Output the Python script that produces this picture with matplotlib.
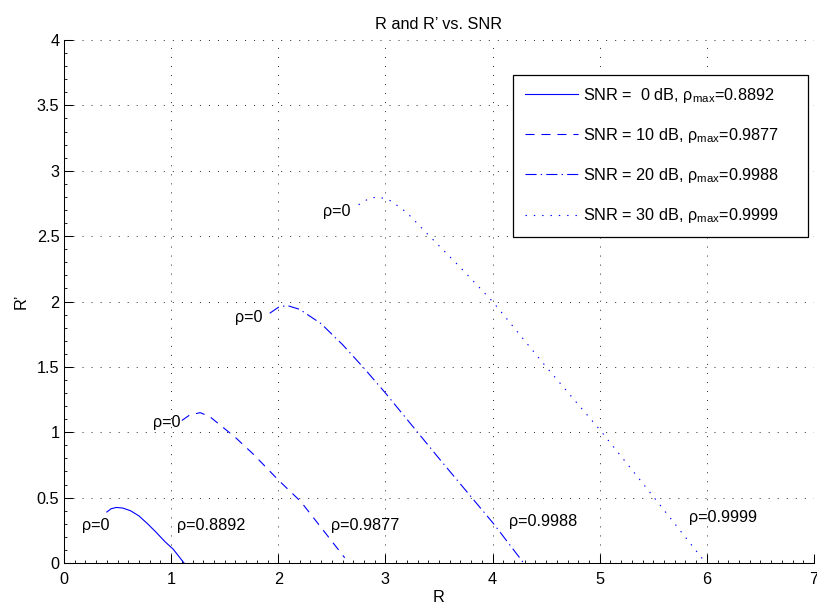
import numpy as np
import matplotlib
matplotlib.use('Agg')
import matplotlib.pyplot as plt
from matplotlib.ticker import AutoMinorLocator

# values (R, R')
R_0dB = [0.40, 0.44, 0.49, 0.55, 0.62, 0.70, 0.78, 0.86, 0.94, 1.02, 1.12]
Rp_0dB = [0.39, 0.415, 0.425, 0.42, 0.40, 0.36, 0.30, 0.235, 0.165, 0.105, 0.0]

R_10dB = [1.10, 1.17, 1.27, 1.36, 1.45, 1.60, 1.77, 2.00, 2.21, 2.42, 2.62]
Rp_10dB = [1.09, 1.13, 1.15, 1.12, 1.06, 0.96, 0.83, 0.635, 0.47, 0.25, 0.04]

R_20dB = [1.92, 2.00, 2.08, 2.20, 2.40, 2.60, 2.80, 3.00, 3.50, 4.01, 4.29]
Rp_20dB = [1.91, 1.955, 1.97, 1.94, 1.83, 1.67, 1.49, 1.30, 0.80, 0.30, 0.0]

R_30dB = [2.75, 2.85, 2.94, 3.05, 3.20, 3.40, 3.70, 4.00, 4.50, 5.00, 5.45, 5.99]
Rp_30dB = [2.74, 2.79, 2.80, 2.77, 2.68, 2.51, 2.26, 2.00, 1.50, 1.02, 0.56, 0.0]

legend_labels = ['SNR =  0 dB, ρ$_{\\mathrm{max}}$=0.8892',
                 'SNR = 10 dB, ρ$_{\\mathrm{max}}$=0.9877',
                 'SNR = 20 dB, ρ$_{\\mathrm{max}}$=0.9988',
                 'SNR = 30 dB, ρ$_{\\mathrm{max}}$=0.9999']

# annotation texts and where they sit (data coords)
ann_text = ['ρ=0', 'ρ=0.8892', 'ρ=0', 'ρ=0.9877',
            'ρ=0', 'ρ=0.9988', 'ρ=0', 'ρ=0.9999']
ann_x = [0.165, 1.05, 0.835, 2.49, 1.60, 4.15, 2.42, 5.83]
ann_y = [0.29, 0.29, 1.076, 0.29, 1.88, 0.316, 2.69, 0.346]

xtick_vals = [0, 1, 2, 3, 4, 5, 6, 7]
xtick_labels = ['0', '1', '2', '3', '4', '5', '6', '7']
ytick_vals = [0, 0.5, 1, 1.5, 2, 2.5, 3, 3.5, 4]
ytick_labels = ['0', '0.5', '1', '1.5', '2', '2.5', '3', '3.5', '4']

plt.rcParams['font.family'] = ['Liberation Sans', 'DejaVu Sans']
plt.rcParams['mathtext.fontset'] = 'custom'
plt.rcParams['mathtext.rm'] = 'Liberation Sans'
plt.rcParams['mathtext.it'] = 'Liberation Sans:italic'
plt.rcParams['mathtext.bf'] = 'Liberation Sans:bold'
plt.rcParams['lines.scale_dashes'] = False
fs = 11.7

fig = plt.figure(figsize=(8.17, 6.14), dpi=100)
ax = fig.add_axes([64/817, 1 - 563/614, 750/817, 523/614])

blue = '#0000ff'
lw = 0.8
ax.plot(R_0dB, Rp_0dB, color=blue, lw=lw, linestyle='-', label=legend_labels[0])
ax.plot(R_10dB, Rp_10dB, color=blue, lw=lw, linestyle=(0, (6.5, 5)), label=legend_labels[1])
ax.plot(R_20dB, Rp_20dB, color=blue, lw=lw, linestyle=(0, (8, 3, 1, 3)), label=legend_labels[2])
ax.plot(R_30dB, Rp_30dB, color=blue, lw=lw, linestyle=(0, (1, 5)), label=legend_labels[3])

for t, x, y in zip(ann_text, ann_x, ann_y):
    ax.text(x, y, t, fontsize=fs, ha='left', va='center')

ax.set_xlim(0, 7)
ax.set_ylim(0, 4)
ax.set_xticks(xtick_vals)
ax.set_xticklabels(xtick_labels)
ax.set_yticks(ytick_vals)
ax.set_yticklabels(ytick_labels)
ax.xaxis.set_minor_locator(AutoMinorLocator(10))
ax.yaxis.set_minor_locator(AutoMinorLocator(5))
ax.tick_params(which='major', direction='in', length=6.5, width=0.75, labelsize=fs)
ax.tick_params(axis='x', which='major', pad=6.5)
ax.tick_params(axis='y', which='major', pad=3.4)
ax.tick_params(which='minor', direction='in', length=2.5, width=0.6)

for s in ['top', 'right']:
    ax.spines[s].set_visible(False)
for s in ['left', 'bottom']:
    ax.spines[s].set_linewidth(0.75)

ax.grid(True, which='major', color='0.15', linestyle=(0, (0.7, 5.8)), linewidth=0.7)

ax.set_title('R and R’ vs. SNR', fontsize=fs, pad=8)
ax.set_xlabel('R', fontsize=fs, labelpad=2)
ax.set_ylabel('R’', fontsize=fs, labelpad=6)

leg = ax.legend(loc='upper left', bbox_to_anchor=(0.599, 0.624, 0.3926, 0.31),
                mode='expand', borderaxespad=0, fontsize=fs, fancybox=False,
                framealpha=1, edgecolor='k', handlelength=3.3, handletextpad=0.3,
                labelspacing=1.3, borderpad=0.7)
leg.get_frame().set_linewidth(0.9)

plt.savefig('out.png', dpi=100)
